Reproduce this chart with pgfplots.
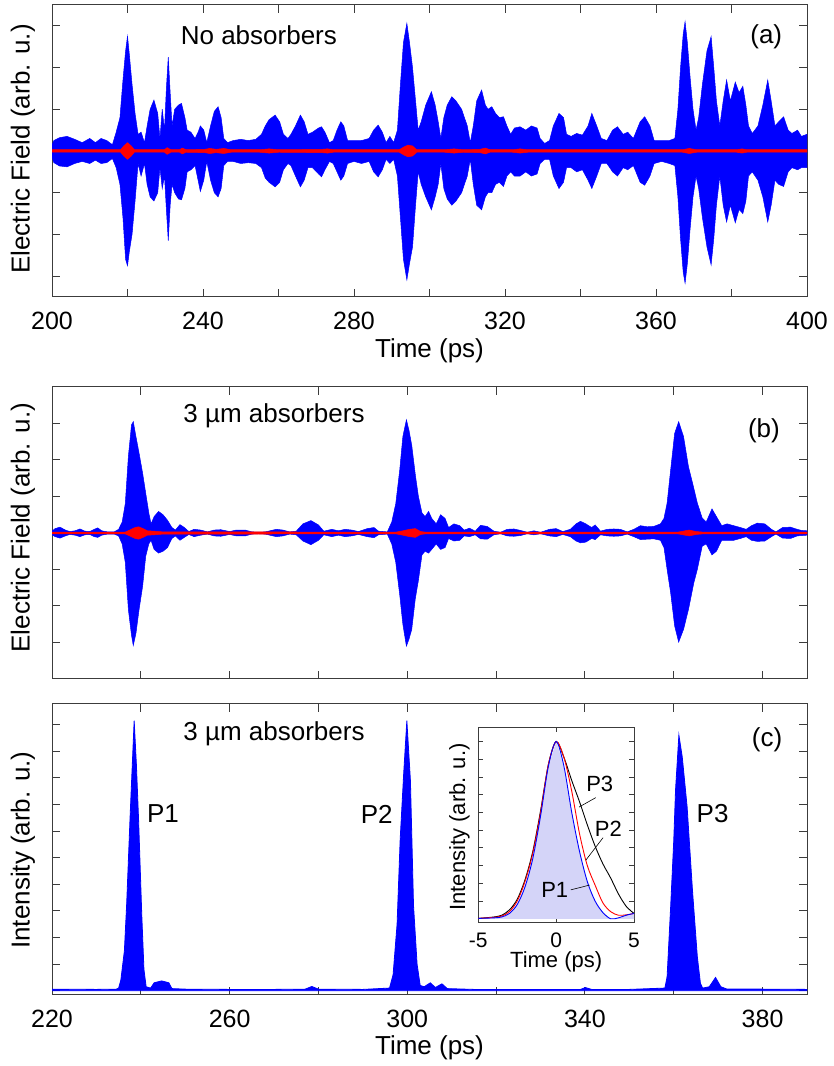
\documentclass[border=0pt]{standalone}
\usepackage{pgfplots}
\pgfplotsset{compat=1.18}
\usepackage{pgfplotstable}
\usepackage{fontspec}
\setmainfont{Liberation Sans}

\definecolor{axgray}{RGB}{60,60,60}
\definecolor{insetfill}{RGB}{212,212,248}

% ---------- panel (a): envelope of the field, no absorbers ----------
\pgfplotstableread{
x up lo
200 0.15 -0.15
200.5 0.25 -0.28
202 0.32 -0.36
204 0.35 -0.38
206 0.28 -0.30
208 0.20 -0.25
210 0.30 -0.30
211.5 0.20 -0.22
213 0.30 -0.30
214.5 0.25 -0.28
216 0.15 -0.18
217 0.45 -0.40
218 0.80 -0.80
218.8 1.70 -1.60
219.5 2.40 -2.60
220 2.75 -2.75
220.5 2.30 -2.40
221.2 1.60 -2.00
222 0.90 -1.20
222.8 0.40 -0.30
223.6 0.45 -0.60
224.5 0.20 -0.30
225.2 0.60 -0.80
226 1.00 -1.10
227 1.22 -1.20
228 0.90 -1.00
228.6 0.30 -0.40
229.2 1.00 -0.90
229.8 0.50 -0.60
230.3 1.50 -1.40
230.8 2.25 -2.15
231.3 1.40 -1.30
231.8 0.60 -0.80
232.5 1.00 -1.00
233.5 1.10 -1.15
234.3 1.14 -1.17
235.2 0.80 -0.90
235.8 0.50 -0.50
236.8 0.45 -0.45
237.9 0.30 -0.35
238.7 0.45 -0.70
239.3 0.60 -0.97
240.2 0.50 -0.70
241 0.20 -0.25
242 0.60 -0.70
243 0.95 -1.00
244 1.06 -1.10
244.8 0.80 -0.90
245.5 0.30 -0.35
246.5 0.20 -0.25
248 0.25 -0.25
250 0.28 -0.30
252 0.25 -0.28
254 0.28 -0.30
255.5 0.40 -0.40
256.5 0.60 -0.65
257.5 0.75 -0.75
259.1 0.86 -0.86
260.3 0.70 -0.75
261.3 0.40 -0.45
262.5 0.30 -0.30
263.3 0.40 -0.35
264.5 0.60 -0.60
265.8 0.86 -0.86
266.8 0.70 -0.70
267.8 0.40 -0.40
269 0.45 -0.40
270.6 0.55 -0.55
271.4 0.58 -0.62
272.3 0.45 -0.45
273.5 0.20 -0.25
274.5 0.25 -0.30
275.5 0.50 -0.50
276.5 0.70 -0.70
277.3 0.60 -0.60
278.3 0.25 -0.30
280 0.25 -0.25
282 0.25 -0.30
284 0.30 -0.25
285.2 0.50 -0.50
286.4 0.62 -0.62
287.5 0.45 -0.45
288.5 0.20 -0.20
289.5 0.35 -0.30
290.5 0.20 -0.20
291.5 0.50 -0.60
292.3 1.60 -1.60
293.1 2.60 -2.60
294 3.06 -3.09
294.7 2.60 -2.70
295.5 2.00 -2.30
296.3 1.20 -1.30
297 0.50 -0.50
297.8 0.70 -0.80
299 1.10 -1.10
300.5 1.42 -1.41
301.5 1.10 -1.10
302.3 0.70 -0.80
303 0.30 -0.30
303.8 0.80 -0.90
304.7 1.10 -1.15
305.9 1.30 -1.30
307 1.20 -1.20
308.5 1.00 -1.00
310 0.60 -0.60
310.8 0.20 -0.20
311.6 0.60 -0.80
312.5 1.20 -1.30
313.8 1.46 -1.41
314.8 1.10 -1.10
315.5 1.00 -1.00
316.5 1.06 -1.00
317.5 0.90 -0.80
318.5 0.80 -0.75
319.6 0.82 -0.85
320.5 0.60 -0.60
321.5 0.40 -0.50
322.5 0.55 -0.60
324 0.58 -0.60
325.5 0.50 -0.50
327 0.60 -0.60
328.5 0.55 -0.55
329.3 0.30 -0.30
330.5 0.18 -0.20
331.8 0.25 -0.20
332.8 0.60 -0.60
334.3 0.90 -0.90
335.5 0.80 -0.75
336.3 0.40 -0.40
337.5 0.35 -0.40
339 0.42 -0.50
340.5 0.38 -0.45
342 0.60 -0.70
343 0.90 -0.90
344.3 0.60 -0.60
345.5 0.30 -0.30
347 0.25 -0.30
348.5 0.50 -0.50
349.8 0.58 -0.60
351.3 0.40 -0.40
352.5 0.45 -0.45
354 0.30 -0.35
355.8 0.70 -0.75
357 0.82 -0.82
358.4 0.60 -0.60
359.5 0.25 -0.30
361.5 0.25 -0.25
363.5 0.25 -0.30
365 0.30 -0.35
365.8 1.00 -1.10
366.5 2.00 -2.10
367.2 2.80 -2.90
367.7 3.10 -3.17
368.3 2.60 -2.70
369 1.80 -1.90
369.8 1.00 -1.10
370.6 0.50 -0.60
371.3 0.80 -0.90
372.3 1.60 -1.60
373.5 2.40 -2.30
374.6 2.74 -2.73
375.3 2.00 -2.10
376 1.20 -1.30
376.9 0.60 -0.60
377.8 1.20 -1.30
378.7 1.70 -1.70
379.7 1.20 -1.30
381 1.65 -1.72
382 1.40 -1.40
383 1.55 -1.50
383.8 1.10 -1.20
384.5 0.60 -0.60
385.5 0.42 -0.50
387 0.60 -0.70
388.3 1.10 -1.10
389.6 1.70 -1.70
390.5 1.20 -1.30
391.5 0.60 -0.70
392.5 0.70 -0.80
393.8 0.82 -0.85
395 0.50 -0.50
396 0.42 -0.40
397.5 0.50 -0.45
398.5 0.35 -0.40
400 0.40 -0.40
}\tblA

\pgfplotstableread{
x up lo
200 0.03 -0.03
218.2 0.03 -0.03
219 0.12 -0.12
220 0.20 -0.20
221 0.12 -0.12
221.8 0.03 -0.03
229.8 0.03 -0.03
230.5 0.08 -0.08
231.5 0.03 -0.03
233.8 0.03 -0.03
234.5 0.07 -0.07
235.5 0.03 -0.03
240.5 0.04 -0.04
241.8 0.06 -0.06
243.5 0.04 -0.04
245.5 0.06 -0.06
247.5 0.03 -0.03
255 0.03 -0.03
257.5 0.05 -0.05
260 0.03 -0.03
271.5 0.04 -0.04
273 0.05 -0.05
274.5 0.03 -0.03
292 0.03 -0.03
293.3 0.10 -0.10
294.3 0.14 -0.14
295.5 0.12 -0.12
296.6 0.03 -0.03
304 0.03 -0.03
306.5 0.05 -0.05
309 0.03 -0.03
313.4 0.04 -0.04
314.8 0.07 -0.07
316 0.03 -0.03
322 0.03 -0.03
324 0.05 -0.05
326 0.03 -0.03
367 0.03 -0.03
368.8 0.06 -0.06
370.8 0.03 -0.03
381.4 0.03 -0.03
382.8 0.05 -0.05
384 0.03 -0.03
400 0.03 -0.03
}\tblAred

% ---------- panel (b): envelope of the field, 3 um absorbers ----------
\pgfplotstableread{
x up lo
220 0.05 -0.05
220.7 0.12 -0.10
221.8 0.16 -0.14
223 0.08 -0.08
224 0.04 -0.04
225.2 0.06 -0.06
226.3 0.11 -0.10
227.4 0.05 -0.05
228.5 0.04 -0.04
229.5 0.10 -0.10
230.3 0.14 -0.12
231.2 0.06 -0.06
232.5 0.03 -0.03
234 0.03 -0.03
235 0.10 -0.08
235.8 0.30 -0.30
236.5 0.80 -0.80
237.2 2.10 -2.10
237.9 2.96 -2.80
238.3 3.05 -3.08
238.9 2.64 -2.75
239.6 2.19 -2.10
240.4 1.64 -1.46
241.1 1.09 -0.64
241.8 0.55 -0.30
242.3 0.25 -0.20
243 0.45 -0.45
244 0.59 -0.55
245 0.50 -0.50
246 0.35 -0.40
247 0.15 -0.15
247.8 0.08 -0.08
248.8 0.23 -0.20
249.8 0.15 -0.12
250.8 0.04 -0.04
252 0.10 -0.10
253.5 0.08 -0.06
255 0.03 -0.03
256.5 0.08 -0.08
258 0.09 -0.09
260 0.04 -0.04
261.5 0.08 -0.08
263.5 0.08 -0.08
265 0.03 -0.03
266.5 0.02 -0.02
268 0.03 -0.03
270.5 0.10 -0.10
272 0.08 -0.08
273.5 0.03 -0.03
275 0.05 -0.05
276.5 0.25 -0.22
278.3 0.34 -0.32
280 0.22 -0.20
281.2 0.05 -0.05
283 0.10 -0.10
284.5 0.06 -0.06
286 0.10 -0.10
287.5 0.08 -0.08
289 0.04 -0.04
291 0.12 -0.10
292.5 0.15 -0.13
293.5 0.05 -0.05
295.5 0.03 -0.03
296.5 0.30 -0.30
297.4 0.80 -0.80
298.3 1.73 -1.70
299 2.64 -2.50
299.8 3.10 -3.10
300.4 2.80 -2.90
301 2.40 -2.64
301.8 1.60 -1.80
302.5 1.00 -1.30
303.3 0.55 -0.60
304 0.45 -0.50
304.8 0.59 -0.55
305.5 0.40 -0.45
306.5 0.25 -0.30
307.5 0.50 -0.45
308.5 0.40 -0.40
309.3 0.15 -0.15
310.5 0.25 -0.22
311.8 0.20 -0.20
312.8 0.08 -0.08
314 0.13 -0.10
315.3 0.05 -0.05
316.5 0.21 -0.16
318 0.18 -0.17
319.5 0.05 -0.05
321 0.02 -0.02
322.5 0.10 -0.08
324 0.11 -0.09
325.5 0.07 -0.07
327 0.02 -0.02
328.5 0.06 -0.05
330 0.02 -0.02
332 0.10 -0.08
333.5 0.12 -0.10
335 0.04 -0.04
336.7 0.10 -0.10
338 0.25 -0.22
339 0.32 -0.27
340.2 0.25 -0.25
341.5 0.15 -0.15
342.3 0.22 -0.18
343.5 0.05 -0.05
345 0.10 -0.08
346.5 0.11 -0.09
348 0.10 -0.08
349.5 0.03 -0.03
351 0.10 -0.10
352.5 0.20 -0.18
354 0.17 -0.17
355.5 0.18 -0.16
357 0.25 -0.20
357.8 0.40 -0.40
358.5 0.82 -1.00
359.3 1.73 -1.64
360.2 2.73 -2.55
361.1 3.05 -2.99
362.2 2.64 -2.64
363.3 1.82 -2.10
364.5 1.23 -1.37
365.3 0.82 -1.00
366.4 0.41 -0.36
367.3 0.30 -0.30
368.6 0.66 -0.60
369.6 0.45 -0.50
370.8 0.20 -0.20
372 0.25 -0.20
373.5 0.20 -0.20
375 0.15 -0.15
376.3 0.10 -0.10
377.5 0.20 -0.20
378.8 0.27 -0.23
380.5 0.25 -0.22
382 0.10 -0.10
383 0.03 -0.03
384.5 0.15 -0.14
386.3 0.16 -0.15
387.8 0.10 -0.08
388.8 0.07 -0.07
390 0.06 -0.06
}\tblB

\pgfplotstableread{
x up lo
220 0.025 -0.025
236.5 0.025 -0.025
237.5 0.08 -0.08
238.7 0.15 -0.15
239.5 0.17 -0.17
240.5 0.12 -0.12
241.5 0.06 -0.06
243 0.05 -0.05
245 0.03 -0.03
297.5 0.025 -0.025
299 0.06 -0.06
300.5 0.10 -0.10
301.8 0.12 -0.12
303 0.04 -0.04
304 0.025 -0.025
361 0.025 -0.025
362.5 0.06 -0.06
363.5 0.08 -0.08
365 0.04 -0.04
366.5 0.025 -0.025
390 0.025 -0.025
}\tblBred

% ---------- panel (c): intensity ----------
\pgfplotstableread{
x y
220 0.06
230 0.05
234.5 0.06
235 0.10
235.5 0.40
236.3 1.50
236.8 3.20
237.6 6.60
238.5 10.15
239 8.50
239.5 6.40
240.2 2.90
240.7 0.80
241.2 0.15
242.2 0.10
243 0.30
244.7 0.37
246.3 0.30
247 0.08
250 0.06
260 0.05
270 0.05
277 0.06
278.5 0.16
280 0.06
290 0.05
296 0.10
296.8 0.60
297.7 2.50
298.4 5.70
299.2 8.20
299.9 10.15
300.7 7.90
301.4 3.20
302.2 1.00
302.9 0.20
303.8 0.15
305.2 0.30
306.3 0.12
307.8 0.26
309 0.08
315 0.05
330 0.05
339 0.05
340.1 0.12
341.5 0.05
350 0.05
358 0.10
358.5 0.53
359.3 3.16
360 5.66
360.4 7.55
361.15 9.61
361.9 8.80
363 6.92
364.2 3.79
365.3 1.28
366 0.28
366.5 0.10
368 0.15
369.4 0.50
370.6 0.15
372 0.06
380 0.06
390 0.05
}\tblC

% ---------- inset ----------
\pgfplotstableread{
t p1 p2 p3
-5 0.002 0.002 0.002
-4 0.005 0.008 0.010
-3.5 0.010 0.015 0.020
-3 0.030 0.040 0.050
-2.5 0.080 0.100 0.110
-2 0.180 0.210 0.220
-1.5 0.340 0.370 0.380
-1 0.580 0.600 0.610
-0.5 0.860 0.870 0.870
0 1.000 1.000 1.000
0.5 0.860 0.910 0.910
1 0.600 0.720 0.780
1.5 0.380 0.480 0.660
2 0.210 0.300 0.530
2.5 0.100 0.190 0.410
3 0.035 0.090 0.310
3.5 0.000 0.040 0.230
4 0.005 0.020 0.140
4.5 0.020 0.022 0.070
5 0.030 0.030 0.030
}\tblIn

\pgfplotsset{
  panel/.style={
    scale only axis,
    width=755bp,
    axis line style={axgray, line width=1bp},
    every tick/.style={axgray, line width=1bp},
    major tick length=8bp,
    tick align=inside,
    /pgf/number format/assume math mode=true,
    tick label style={font=\fontsize{25bp}{30bp}\selectfont, inner sep=0pt, text=black},
    xticklabel style={anchor=north, yshift=-15bp},
    label style={font=\fontsize{26bp}{30bp}\selectfont, inner sep=0pt},
    yticklabels={},
  },
}
\tikzset{
  txt/.style={font=\fontsize{26bp}{30bp}\selectfont, inner sep=0pt, anchor=center},
  itxt/.style={font=\fontsize{22bp}{26bp}\selectfont, inner sep=0pt, anchor=center},
}

\begin{document}
\begin{tikzpicture}[x=1bp,y=1bp]
\useasboundingbox (0,0) rectangle (834,1066);

% ===== (a) =====
\begin{axis}[panel, at={(52bp,769bp)}, anchor=south west, height=292bp,
  xmin=200, xmax=400, ymin=-3.5, ymax=3.5,
  xtick={200,220,...,400}, xticklabels={200,,240,,280,,320,,360,,400},
  ytick={-3,-2,...,3},
  xlabel={Time (ps)},
  xlabel style={at={(axis description cs:0.5,-0.183)}, anchor=center},
]
\addplot[draw=blue, fill=blue, line width=0.5bp] table[x=x, y=up] {\tblA} \closedcycle;
\addplot[draw=blue, fill=blue, line width=0.5bp] table[x=x, y=lo] {\tblA} \closedcycle;
\addplot[draw=red, fill=red, line width=0.5bp] table[x=x, y=up] {\tblAred} \closedcycle;
\addplot[draw=red, fill=red, line width=0.5bp] table[x=x, y=lo] {\tblAred} \closedcycle;
\node[txt] at (rel axis cs:0.274,0.897) {No absorbers};
\node[txt] at (rel axis cs:0.946,0.890) {(a)};
\end{axis}
\node[txt, rotate=90] at (23,917) {Electric Field (arb. u.)};

% ===== (b) =====
\begin{axis}[panel, at={(52bp,387bp)}, anchor=south west, height=292bp,
  xmin=220, xmax=390, ymin=-4, ymax=4,
  xtick={220,240,...,380}, xticklabels={},
  ytick={-3,-2,...,3},
  ylabel={Electric Field (arb. u.)},
  ylabel style={at={(axis description cs:-0.0384,0.518)}, anchor=center},
]
\addplot[draw=blue, fill=blue, line width=0.5bp] table[x=x, y=up] {\tblB} \closedcycle;
\addplot[draw=blue, fill=blue, line width=0.5bp] table[x=x, y=lo] {\tblB} \closedcycle;
\addplot[draw=red, fill=red, line width=0.5bp] table[x=x, y=up] {\tblBred} \closedcycle;
\addplot[draw=red, fill=red, line width=0.5bp] table[x=x, y=lo] {\tblBred} \closedcycle;
\node[txt] at (rel axis cs:0.294,0.901) {3 µm absorbers};
\node[txt] at (rel axis cs:0.943,0.850) {(b)};
\end{axis}

% ===== (c) =====
\begin{axis}[panel, at={(52bp,71bp)}, anchor=south west, height=291bp,
  xmin=220, xmax=390, ymin=-0.16, ymax=10.78,
  xtick={220,240,...,380}, xticklabels={220,,260,,300,,340,,380},
  ytick={0,1,...,10},
  xlabel={Time (ps)}, ylabel={Intensity (arb. u.)},
  xlabel style={at={(axis description cs:0.5,-0.181)}, anchor=center},
  ylabel style={at={(axis description cs:-0.0384,0.498)}, anchor=center},
]
\addplot[draw=blue, fill=blue, line width=0.8bp] table[x=x, y=y] {\tblC} \closedcycle;
\node[txt] at (rel axis cs:0.294,0.897) {3 µm absorbers};
\node[txt] at (rel axis cs:0.947,0.876) {(c)};
\node[txt] at (rel axis cs:0.147,0.622) {P1};
\node[txt] at (rel axis cs:0.430,0.622) {P2};
\node[txt] at (rel axis cs:0.875,0.622) {P3};
\end{axis}

% ===== inset =====
\begin{axis}[scale only axis, at={(478.3bp,143.7bp)}, anchor=south west,
  width=155.7bp, height=195bp,
  xmin=-5, xmax=5, ymin=-0.02, ymax=1.08,
  axis background/.style={fill=white},
  axis line style={axgray, line width=1bp},
  every tick/.style={axgray, line width=0.8bp},
  major tick length=5bp, tick align=inside,
  xtick={-5,0,5}, xticklabels={-5,0,5},
  ytick={0,0.1,...,1.01}, yticklabels={},
  tick label style={font=\fontsize{21bp}{25bp}\selectfont, inner sep=0pt},
  xticklabel style={anchor=north, yshift=-10.4bp},
  label style={font=\fontsize{22bp}{26bp}\selectfont, inner sep=0pt},
  xlabel={Time (ps)}, ylabel={Intensity (arb. u.)},
  xlabel style={at={(axis description cs:0.5,-0.2036)}, anchor=center},
  ylabel style={at={(axis description cs:-0.122,0.489)}, anchor=center},
]
\addplot[draw=none, fill=insetfill] table[x=t, y=p1] {\tblIn} \closedcycle;
\addplot[black, line width=0.9bp, smooth] table[x=t, y=p3] {\tblIn};
\addplot[red, line width=0.9bp, smooth] table[x=t, y=p2] {\tblIn};
\addplot[blue, line width=0.9bp, smooth] table[x=t, y=p1] {\tblIn};
\node[itxt] at (axis cs:2.80,0.762) {P3};
\node[itxt] at (axis cs:3.35,0.509) {P2};
\node[itxt] at (axis cs:-0.09,0.163) {P1};
\draw[black, line width=0.6bp] (axis cs:2.54,0.683) -- (axis cs:1.47,0.63);
\draw[black, line width=0.6bp] (axis cs:3.01,0.457) -- (axis cs:1.90,0.33);
\draw[black, line width=0.6bp] (axis cs:0.94,0.163) -- (axis cs:2.15,0.19);
\end{axis}
\end{tikzpicture}
\end{document}
